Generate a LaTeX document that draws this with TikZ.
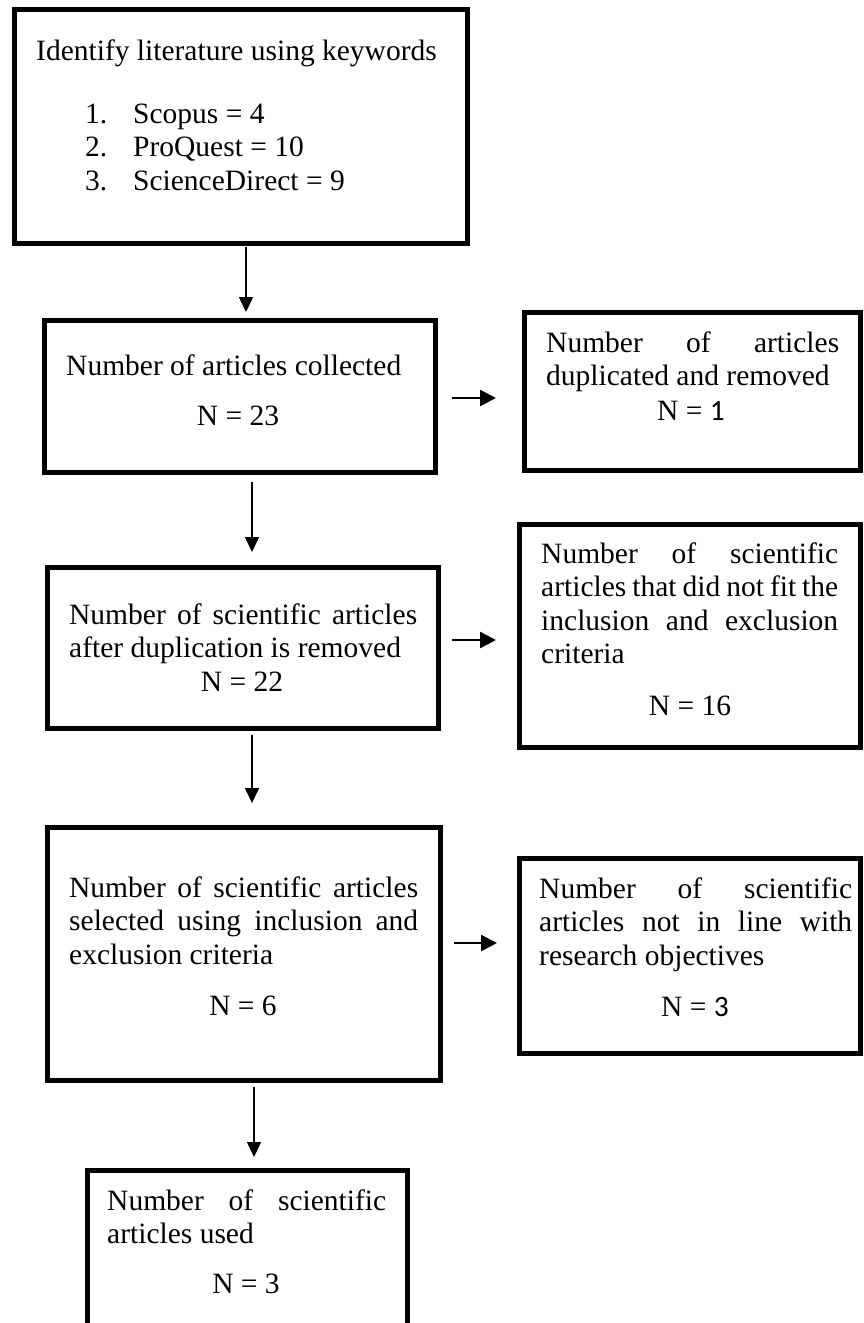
\documentclass[tikz,border=0pt]{standalone}
\usepackage{fontspec}
\setmainfont{Liberation Serif}
\newfontfamily\carlitofont{Carlito}
\usetikzlibrary{arrows.meta}
\tikzset{
  box/.style={draw, line width=5pt, rectangle, inner sep=0pt},
  txt/.style={inner sep=0pt},
  jtxt/.style={inner sep=0pt, align=justify},
  varr/.style={line width=1.5pt, -{Triangle[length=15pt,width=14pt]}},
  harr/.style={line width=2.5pt, -{Triangle[length=16pt,width=16pt]}}
}
\begin{document}
\begin{tikzpicture}[x=1pt, y=-1pt, font=\fontsize{29.5}{33.5}\selectfont]
\useasboundingbox (0,0) rectangle (863,1323);
\clip (0,0) rectangle (863,1323);
% boxes
\node[box, minimum width=453pt, minimum height=234pt] (B1) at (240.5,126) {};
\node[box, minimum width=391pt, minimum height=152pt] (B2) at (239.5,396) {};
\node[box, minimum width=336pt, minimum height=158pt] (B2R) at (692,391) {};
\node[box, minimum width=391pt, minimum height=161pt] (B3) at (242.5,647.5) {};
\node[box, minimum width=341pt, minimum height=223pt] (B3R) at (689.5,635.5) {};
\node[box, minimum width=393pt, minimum height=253pt] (B4) at (243.5,953.5) {};
\node[box, minimum width=341pt, minimum height=195pt] (B4R) at (689.5,955.5) {};
\node[box, minimum width=320pt, minimum height=175pt] (B5) at (247,1257.5) {};
% texts
\node[txt, anchor=base west] (t1) at (36,60) {Identify literature using keywords};
\node[jtxt, anchor=base west, text width=330pt] (t1l) at (85,123) {\makebox[48pt][l]{1.}Scopus = 4\\\makebox[48pt][l]{2.}ProQuest = 10\\\makebox[48pt][l]{3.}ScienceDirect = 9};
\node[txt, anchor=base west] (t2) at (66,375) {Number of articles collected};
\node[txt, anchor=base] (n2) at (238,425) {N = 23};
\node[jtxt, anchor=base west, text width=293pt] (t2r) at (546,352) {\makebox[293pt][s]{Number of articles}\\duplicated and removed};
\node[txt, anchor=base] (n2r) at (691,420) {N = {\carlitofont 1}};
\node[jtxt, anchor=base west, text width=348pt] (t3) at (69,624) {\makebox[348pt][s]{Number of scientific articles}\\after duplication is removed};
\node[txt, anchor=base] (n3) at (242,691) {N = 22};
\node[jtxt, anchor=base west, text width=297pt] (t3r) at (541,563) {\makebox[297pt][s]{Number of scientific}\\\makebox[297pt][s]{articles that did not fit the}\\\makebox[297pt][s]{inclusion and exclusion}\\criteria};
\node[txt, anchor=base] (n3r) at (690,715) {N = 16};
\node[jtxt, anchor=base west, text width=349pt] (t4) at (69,897) {\makebox[349pt][s]{Number of scientific articles}\\\makebox[349pt][s]{selected using inclusion and}\\exclusion criteria};
\node[txt, anchor=base] (n4) at (243,1015) {N = 6};
\node[jtxt, anchor=base west, text width=313pt] (t4r) at (539,898) {\makebox[313pt][s]{Number of scientific}\\\makebox[313pt][s]{articles not in line with}\\research objectives};
\node[txt, anchor=base] (n4r) at (695,1016) {N = {\carlitofont 3}};
\node[jtxt, anchor=base west, text width=279pt] (t5) at (107,1210) {\makebox[279pt][s]{Number of scientific}\\articles used};
\node[txt, anchor=base] (n5) at (246,1293) {N = 3};
% vertical arrows
\draw[varr] ([xshift=5.5pt,yshift=-1.5pt]B1.south) -- ([xshift=6.5pt,yshift=5.5pt]B2.north);
\draw[varr] ([xshift=12.5pt,yshift=-7.5pt]B2.south) -- ([xshift=9.5pt,yshift=12.5pt]B3.north);
\draw[varr] ([xshift=9.5pt,yshift=-4.5pt]B3.south) -- ([xshift=8.5pt,yshift=21.5pt]B4.north);
\draw[varr] ([xshift=10.5pt,yshift=-4.5pt]B4.south) -- ([xshift=7pt,yshift=10.5pt]B5.north);
% horizontal arrows
\draw[harr] ([xshift=14.5pt,yshift=-2pt]B2.east) -- ([xshift=-25.5pt,yshift=-7pt]B2R.west);
\draw[harr] ([xshift=11.5pt,yshift=7.5pt]B3.east) -- ([xshift=-20.5pt,yshift=-4.5pt]B3R.west);
\draw[harr] ([xshift=11.5pt,yshift=10.5pt]B4.east) -- ([xshift=-19.5pt,yshift=12.5pt]B4R.west);
\end{tikzpicture}
\end{document}
